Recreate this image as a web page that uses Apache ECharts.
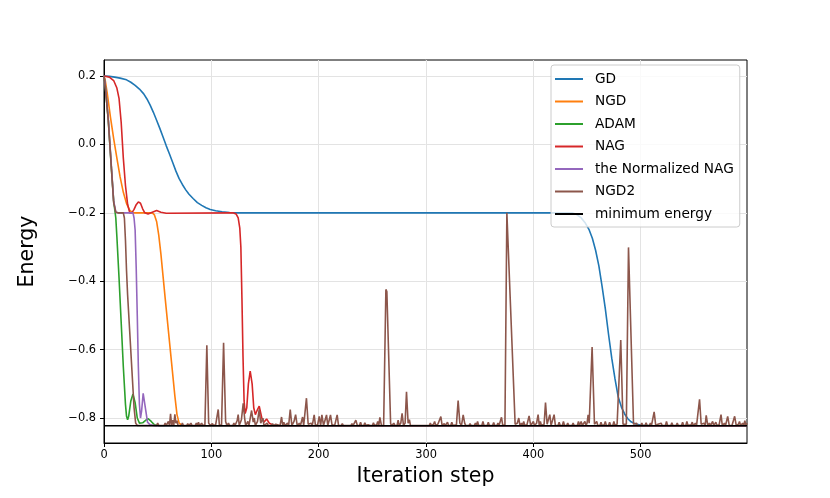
<!DOCTYPE html>
<html>
<head>
<meta charset="utf-8">
<script src="https://cdn.jsdelivr.net/npm/echarts@6/dist/echarts.min.js"></script>
<style>
  html, body { margin: 0; padding: 0; background: #fff; }
  #chart { width: 830px; height: 498px; }
</style>
</head>
<body>
<div id="chart"></div>
<script>
var seriesNames = ['GD', 'NGD', 'ADAM', 'NAG', 'the Normalized NAG', 'NGD2', 'minimum energy'];
var seriesColors = ['#1f77b4', '#ff7f0e', '#2ca02c', '#d62728', '#9467bd', '#8c564b', '#000000'];
var xTicks = [0, 100, 200, 300, 400, 500];
var yTicks = [-0.8, -0.6, -0.4, -0.2, 0.0, 0.2];
var lastStep = 599;
var minEnergy = -0.8225;

// [iteration, energy]
var gdData = [[0,0.2],[5,0.199],[10,0.197],[15,0.194],[21,0.189],[25,0.182],[29,0.173],[33,0.162],[37,0.148],
  [40,0.133],[43,0.115],[46,0.094],[49,0.071],[52,0.047],[55,0.022],[58,-0.004],[61,-0.028],[64,-0.053],
  [67,-0.078],[70,-0.1],[73,-0.117],[76,-0.132],[79,-0.145],[83,-0.158],[87,-0.17],[91,-0.178],[95,-0.185],
  [99,-0.19],[104,-0.194],[110,-0.197],[117,-0.199],[125,-0.2],[436,-0.2],[440,-0.204],[444,-0.213],
  [448,-0.228],[452,-0.25],[455,-0.275],[458,-0.31],[461,-0.355],[464,-0.415],[467,-0.48],[470,-0.555],
  [473,-0.625],[476,-0.685],[479,-0.738],[482,-0.768],[485,-0.788],[488,-0.802],[491,-0.811],[495,-0.817],
  [500,-0.821],[510,-0.8225],[599,-0.8225]];

var ngdData = [[0,0.2],[1,0.19],[3,0.15],[6,0.08],[9,0.017],[12,-0.04],[15,-0.095],[18,-0.14],[21,-0.173],
  [24,-0.193],[27,-0.2],[45,-0.2],[47,-0.206],[49,-0.225],[51,-0.265],[53,-0.32],[55,-0.385],[57,-0.45],
  [60,-0.545],[63,-0.64],[66,-0.735],[68,-0.79],[70,-0.815],[73,-0.8225],[599,-0.8225]];

var adamData = [[0,0.2],[1,0.178],[4,0.07],[7,-0.075],[9,-0.165],[10,-0.19],[11,-0.215],[12,-0.27],[14,-0.39],
  [16,-0.52],[18,-0.65],[20,-0.76],[21,-0.795],[22,-0.805],[23,-0.795],[25,-0.75],[27,-0.73],[29,-0.755],
  [31,-0.8],[33,-0.815],[36,-0.814],[39,-0.806],[41,-0.802],[44,-0.81],[47,-0.82],[52,-0.8225],[599,-0.8225]];

var nagData = [[0,0.2],[5,0.197],[9,0.187],[12,0.165],[14,0.135],[16,0.065],[18,-0.04],[20,-0.12],[22,-0.175],
  [24,-0.2],[26,-0.2],[28,-0.19],[30,-0.176],[32,-0.168],[34,-0.172],[36,-0.188],[38,-0.2],[41,-0.203],
  [45,-0.198],[49,-0.193],[53,-0.198],[58,-0.201],[120,-0.2],[123,-0.203],[125,-0.215],[126.5,-0.245],
  [127.5,-0.3],[128.5,-0.45],[129.5,-0.62],[130.5,-0.75],[131.5,-0.787],[133,-0.77],[134.5,-0.7],[136.2,-0.663],
  [138,-0.7],[139.5,-0.77],[141,-0.79],[143,-0.775],[144.6,-0.765],[147,-0.8],[149,-0.812],[151.5,-0.803],
  [154,-0.815],[158,-0.822],[599,-0.8225]];

var nnagData = [[0,0.2],[1,0.18],[4,0.075],[7,-0.07],[9,-0.165],[11,-0.198],[13,-0.2],[27,-0.2],[28,-0.215],
  [29,-0.25],[30,-0.36],[31,-0.5],[32,-0.65],[33,-0.76],[34,-0.8],[35,-0.78],[36.5,-0.728],[37.5,-0.73],
  [39,-0.78],[40.5,-0.812],[43,-0.82],[48,-0.8225],[599,-0.8225]];

var ngd2Data = [[0,0.2],[1,0.175],[4,0.07],[7,-0.075],[9,-0.17],[11,-0.198],[13,-0.2],[18,-0.2],[19,-0.215],
  [20,-0.28],[21,-0.37],[22,-0.44],[24,-0.55],[26,-0.66],[28,-0.77],[29.5,-0.815],[31,-0.822],
  [36,-0.822],[37,-0.818],[38,-0.822],[44,-0.822],[45,-0.817],[46,-0.822],[49,-0.822],[50,-0.815],[51,-0.822],
  [54,-0.822],[55,-0.818],[56,-0.822],[57,-0.815],[58,-0.822],[59,-0.82],[60,-0.81],[61,-0.822],[62,-0.788],
  [63,-0.822],[64,-0.806],[65,-0.822],[66,-0.789],[67,-0.815],[68,-0.808],[69,-0.822],[72,-0.822],[73,-0.815],
  [74,-0.822],[77,-0.822],[78,-0.816],[79,-0.822],[81,-0.815],[82,-0.822],[85,-0.822],[86,-0.815],[87,-0.822],
  [88,-0.812],[89,-0.822],[91,-0.815],[92,-0.822],[94,-0.82],[95.8,-0.587],[97.5,-0.815],[99,-0.822],
  [101,-0.816],[102,-0.822],[104,-0.82],[106.4,-0.775],[107.5,-0.822],[109.5,-0.82],[111.4,-0.58],[113.3,-0.81],
  [114.5,-0.822],[116,-0.815],[117,-0.822],[120,-0.822],[121,-0.815],[122,-0.822],[124,-0.808],[125,-0.79],
  [126,-0.822],[128,-0.805],[129.7,-0.757],[131,-0.8],[132,-0.822],[134,-0.81],[135,-0.822],[137.5,-0.778],
  [139,-0.812],[140,-0.8],[141,-0.822],[143,-0.81],[144.6,-0.775],[146,-0.815],[148,-0.8],[149,-0.822],
  [152,-0.815],[153,-0.822],[156,-0.822],[157,-0.816],[158,-0.822],[160,-0.818],[161,-0.822],[164,-0.822],
  [165.4,-0.797],[166.5,-0.822],[167.5,-0.812],[168.5,-0.822],[170,-0.822],[171,-0.815],[172,-0.822],
  [173.5,-0.775],[175,-0.822],[177,-0.81],[178.5,-0.79],[180,-0.822],[182,-0.815],[183,-0.822],[185,-0.797],
  [186,-0.822],[187,-0.818],[188.6,-0.742],[190.2,-0.818],[191.5,-0.822],[193,-0.815],[194,-0.822],
  [195.8,-0.791],[197,-0.822],[199,-0.82],[200.5,-0.795],[201.8,-0.822],[203,-0.791],[204.5,-0.822],
  [205.5,-0.818],[207.3,-0.791],[208.5,-0.822],[209.5,-0.818],[211,-0.791],[212.5,-0.822],[215,-0.82],
  [217.2,-0.791],[218.5,-0.822],[221,-0.822],[222,-0.816],[223,-0.822],[226,-0.822],[227,-0.818],[228,-0.822],
  [230,-0.822],[231,-0.816],[232,-0.822],[234.6,-0.806],[236,-0.822],[238,-0.822],[239,-0.812],[240,-0.822],
  [242,-0.822],[243,-0.814],[244,-0.822],[246,-0.82],[247,-0.815],[248,-0.822],[250,-0.822],[251,-0.814],
  [252,-0.822],[254,-0.82],[255,-0.81],[256,-0.822],[257,-0.798],[258.5,-0.822],[260.5,-0.822],[262.6,-0.424],
  [263.5,-0.43],[267,-0.816],[268,-0.822],[270,-0.815],[271,-0.822],[273,-0.822],[274,-0.806],[275,-0.822],
  [276.5,-0.815],[277.7,-0.786],[279,-0.822],[280.5,-0.815],[281.8,-0.723],[283.3,-0.815],[284.5,-0.805],
  [285.5,-0.822],[288,-0.822],[289,-0.818],[290,-0.822],[293,-0.822],[294,-0.818],[295,-0.822],[298,-0.822],
  [299,-0.818],[300,-0.822],[303,-0.822],[304,-0.815],[305,-0.822],[307,-0.818],[308,-0.81],[309,-0.822],
  [311,-0.818],[312,-0.822],[313.8,-0.796],[315,-0.822],[317,-0.816],[318,-0.822],[320,-0.812],[321,-0.822],
  [323,-0.822],[324,-0.812],[325,-0.822],[328.3,-0.82],[329.9,-0.749],[331.5,-0.815],[333,-0.822],
  [334.6,-0.791],[336,-0.815],[337,-0.822],[340,-0.822],[341,-0.816],[342,-0.822],[345,-0.822],[346,-0.815],
  [347,-0.822],[348,-0.81],[349,-0.822],[352,-0.822],[353,-0.81],[354,-0.822],[357,-0.822],[358,-0.812],
  [359,-0.822],[362,-0.822],[363,-0.813],[364,-0.822],[366,-0.822],[367,-0.815],[368,-0.822],[369,-0.82],
  [370.3,-0.798],[371.5,-0.822],[373.5,-0.82],[375.3,-0.2],[377,-0.2],[383,-0.818],[384,-0.822],[385,-0.815],
  [386.4,-0.8],[387.5,-0.822],[389,-0.815],[390,-0.822],[391,-0.81],[392,-0.822],[394,-0.82],[396,-0.794],
  [397.5,-0.822],[399,-0.822],[400,-0.81],[401,-0.822],[403,-0.815],[404.4,-0.79],[405.5,-0.822],[406.5,-0.81],
  [407.5,-0.822],[410,-0.818],[411.3,-0.755],[412.8,-0.818],[414,-0.82],[415.3,-0.79],[416.5,-0.822],
  [418,-0.82],[419.3,-0.79],[420.5,-0.822],[423,-0.822],[424,-0.812],[425,-0.822],[427,-0.822],[428,-0.81],
  [429,-0.822],[431,-0.822],[432,-0.815],[433,-0.822],[436,-0.822],[437,-0.815],[438,-0.822],[441,-0.822],
  [442,-0.81],[443,-0.822],[444.5,-0.81],[445.5,-0.822],[447,-0.822],[448,-0.81],[449,-0.822],[450,-0.815],
  [451,-0.791],[452,-0.815],[453.2,-0.82],[454.7,-0.592],[456.9,-0.818],[458,-0.822],[459,-0.81],[460,-0.822],
  [462,-0.822],[463,-0.812],[464,-0.822],[466,-0.82],[467,-0.81],[468,-0.822],[470,-0.822],[471,-0.812],
  [472,-0.822],[474,-0.822],[475,-0.81],[476,-0.822],[478,-0.818],[479.8,-0.818],[481.4,-0.572],[483.5,-0.818],
  [484.5,-0.822],[486.6,-0.818],[488.6,-0.301],[493.3,-0.818],[494,-0.822],[496,-0.815],[497,-0.822],
  [500,-0.822],[501,-0.815],[502,-0.822],[504,-0.822],[505,-0.814],[506,-0.822],[508,-0.822],[509,-0.815],
  [510,-0.822],[512.5,-0.782],[514,-0.822],[516,-0.818],[517,-0.822],[519,-0.815],[520,-0.822],[523,-0.822],
  [524,-0.81],[525,-0.822],[528,-0.822],[529,-0.814],[530,-0.822],[533,-0.822],[534,-0.815],[535,-0.822],
  [538,-0.822],[539,-0.812],[540,-0.822],[542,-0.822],[543,-0.81],[544,-0.822],[547,-0.82],[548,-0.812],
  [549,-0.822],[551,-0.815],[552,-0.822],[553.5,-0.818],[554.8,-0.745],[556.3,-0.818],[557.5,-0.822],
  [559,-0.815],[560,-0.822],[561,-0.792],[562.5,-0.822],[564,-0.815],[565,-0.822],[567,-0.81],[568,-0.822],
  [570,-0.812],[571,-0.822],[573,-0.82],[574.8,-0.79],[576,-0.822],[578,-0.815],[579,-0.822],[581,-0.795],
  [582.5,-0.822],[584,-0.818],[585,-0.822],[587.5,-0.795],[589,-0.822],[591,-0.818],[592,-0.81],[593,-0.822],
  [595,-0.815],[596,-0.822],[597,-0.808],[598,-0.822],[599,-0.815]];

var minData = [[0, minEnergy], [lastStep, minEnergy]];

var allData = [gdData, ngdData, adamData, nagData, nnagData, ngd2Data, minData];

var chart = echarts.init(document.getElementById('chart'), null, {renderer: 'canvas'});
var font = 'DejaVu Sans';

var series = allData.map(function (d, i) {
  return {
    name: seriesNames[i],
    type: 'line',
    data: d,
    showSymbol: false,
    symbol: 'none',
    animation: false,
    lineStyle: { width: 1.6, color: seriesColors[i] },
    itemStyle: { color: seriesColors[i] }
  };
});

var option = {
  animation: false,
  backgroundColor: '#fff',
  grid: {
    left: 104, right: 83, top: 60, bottom: 55,
    show: true, borderColor: '#000', borderWidth: 1
  },
  legend: {
    orient: 'vertical',
    left: 551, top: 65,
    padding: [7, 6, 6, 4],
    itemGap: 8.5,
    itemWidth: 28, itemHeight: 2,
    icon: 'rect',
    backgroundColor: 'rgba(255,255,255,0.8)',
    borderColor: '#cccccc', borderWidth: 1, borderRadius: 3,
    textStyle: { fontFamily: font, fontSize: 13.7, color: '#000', padding: [0, 0, 0, 7] },
    data: seriesNames
  },
  xAxis: {
    type: 'value',
    min: 0, max: lastStep,
    name: 'Iteration step',
    nameLocation: 'middle',
    nameGap: 23,
    nameTextStyle: { fontFamily: font, fontSize: 20.5, color: '#000' },
    axisLine: { show: true, onZero: false, lineStyle: { color: '#000', width: 1 } },
    axisTick: { show: true, inside: false, length: 4, customValues: xTicks, lineStyle: { color: '#000' } },
    axisLabel: { customValues: xTicks, fontFamily: font, fontSize: 11.4, color: '#000', margin: 7 },
    splitLine: { show: true, lineStyle: { color: '#e3e3e3', width: 1 } }
  },
  yAxis: {
    type: 'value',
    min: -0.873, max: 0.247,
    name: 'Energy',
    nameLocation: 'middle',
    nameGap: 66,
    nameTextStyle: { fontFamily: font, fontSize: 20.5, color: '#000' },
    axisLine: { show: true, onZero: false, lineStyle: { color: '#000', width: 1 } },
    axisTick: { show: true, inside: false, length: 4, customValues: yTicks, lineStyle: { color: '#000' } },
    axisLabel: {
      customValues: yTicks, fontFamily: font, fontSize: 11.4, color: '#000', margin: 8,
      formatter: function (v) { return (v < 0 ? '\u2212' : '') + Math.abs(v).toFixed(1); }
    },
    splitLine: { show: true, lineStyle: { color: '#e3e3e3', width: 1 } }
  },
  series: series
};

chart.setOption(option);
</script>
</body>
</html>
